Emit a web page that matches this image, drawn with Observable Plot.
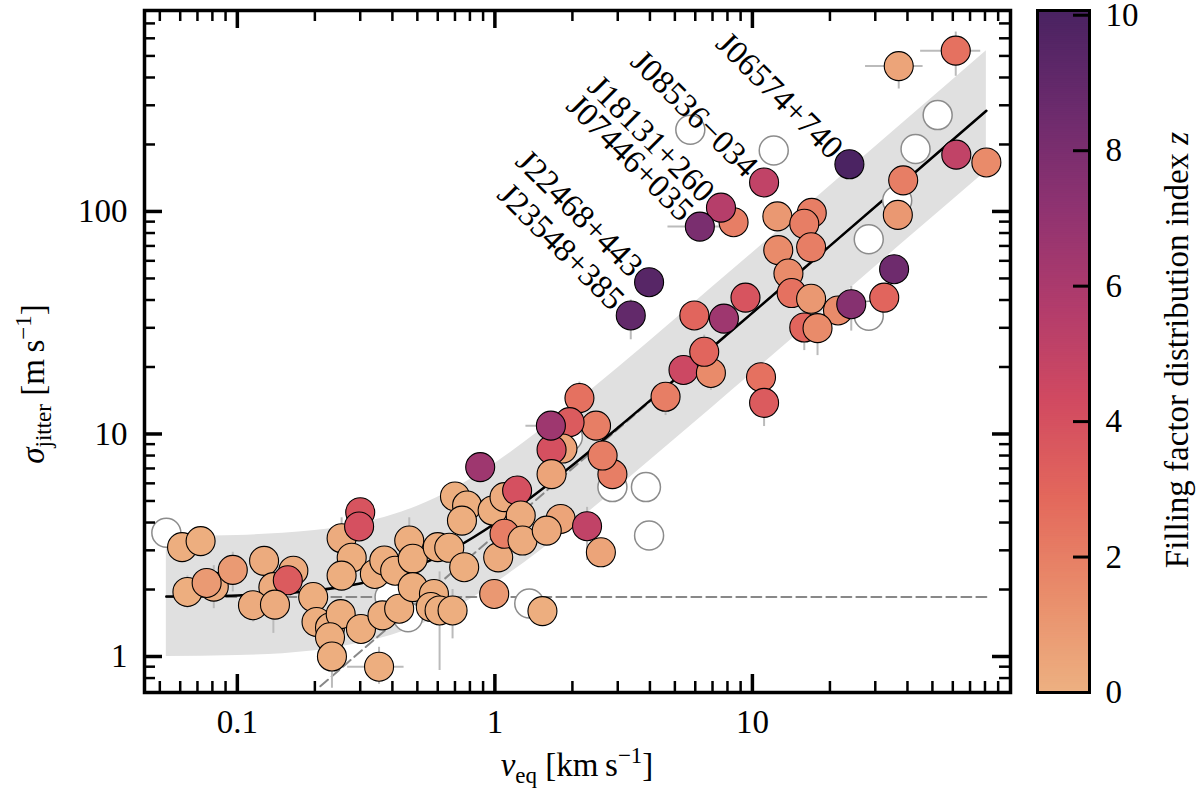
<!DOCTYPE html>
<html>
<head>
<meta charset="utf-8">
<script src="https://cdn.jsdelivr.net/npm/d3@7"></script>
<script src="https://cdn.jsdelivr.net/npm/@observablehq/plot@0.6"></script>
<style>
  body { margin: 0; background: white; }
</style>
</head>
<body>
<div id="chart"></div>
<script>
// stars: equatorial velocity, jitter, filling factor index (null = no z, open circle)
const vEq = [
  0.053, 0.39, 0.46, 1.36, 1.92, 2.86, 3.86, 3.97, 5.74, 12.1, 28.3, 28.3, 36.5, 43, 52.4,
  0.061, 0.072, 0.064, 0.081, 0.076, 0.096, 0.127, 0.165, 0.138, 0.157, 0.115, 0.140,
  0.197, 0.203, 0.229, 0.252, 0.229, 0.233, 0.254, 0.278, 0.254, 0.30, 0.297, 0.302,
  0.355, 0.342, 0.372, 0.41, 0.465, 0.48, 0.366, 0.425, 0.48, 0.58, 0.564, 0.61, 0.685,
  0.60, 0.665, 0.76, 0.70, 0.78, 0.745, 0.877, 0.98, 1.09, 1.22, 1.26, 1.03, 1.09, 1.28,
  0.994, 1.53, 1.80, 1.59, 2.28, 2.58, 2.86, 2.62, 2.47, 2.13, 1.95, 1.83, 1.66, 1.65, 1.66,
  4.6, 5.4, 6.9, 6.5, 5.95, 7.75, 9.4, 10.8, 11.1, 3.37, 3.97, 8.45, 7.55, 6.25, 11.1, 23.8,
  12.5, 17.0, 15.9, 12.6, 16.9, 13.8, 14.2, 16.9, 21.5, 24.2, 15.9, 17.9, 32.5, 35.5, 36.7,
  38.5, 61.9, 81, 37, 61.6
];
const sigma = [
  3.6, 1.85, 1.50, 1.73, 9.7, 5.77, 5.77, 3.5, 233, 188, 34, 75, 112, 191, 271,
  3.1, 3.3, 1.95, 2.06, 2.14, 2.45, 2.69, 2.43, 2.05, 2.20, 1.70, 1.71,
  1.85, 1.43, 1.35, 1.55, 1.22, 1.0, 3.4, 2.78, 2.31, 4.45, 3.84, 1.33,
  0.90, 2.35, 2.70, 2.43, 3.32, 2.75, 1.53, 1.64, 2.05, 1.91, 1.67, 1.61, 1.61,
  3.1, 3.08, 2.52, 5.24, 4.77, 4.08, 7.1, 4.53, 5.2, 5.57, 4.3, 2.79, 3.56, 3.32,
  1.91, 1.60, 4.15, 3.68, 3.85, 2.94, 6.6, 8.0, 10.9, 14.5, 11.3, 8.6, 8.5, 10.9, 6.6,
  14.7, 19.4, 18.8, 23.4, 34.1, 33.0, 41.0, 18.0, 13.8, 34.1, 48.1, 89.5, 104, 85.5, 135, 163,
  95, 98.5, 88, 67, 69, 52.6, 43, 40.5, 35.9, 38.3, 30.1, 29.9, 41, 55, 96.5,
  138, 180, 166, 450, 528
];
const zIdx = [
  null, null, null, null, null, null, null, null, null, null, null, null, null, null, null,
  0.1, 0.1, 0.1, 0.2, 0.9, 0.9, 0.2, 0.2, 0.2, 3.5, 0.2, 0.2,
  0.1, 0.1, 0.1, 0.1, 0.1, 0.1, 0.2, 0.1, 0.1, 3.8, 4.0, 0.1,
  0.1, 0.1, 0.1, 0.1, 0.1, 0.1, 0.1, 0.1, 0.1, 0.1, 0.1, 0.1, 0.1,
  0.1, 0.1, 0.1, 0.1, 0.1, 0.1, 6.5, 0.1, 0.2, 4.0, 0.2, 0.2, 2.0, 0.2,
  1.0, 0.1, 0.5, 0.3, 5.0, 0.5, 2.0, 2.0, 2.0, 2.5, 3.5, 0.5, 4.0, 6.5, 0.5,
  2.0, 4.5, 1.5, 3.0, 3.0, 6.5, 3.8, 2.5, 3.5, 9.0, 9.5, 2.0, 5.5, 8.0, 5.0, 10,
  1.0, 2.0, 2.0, 1.5, 2.0, 1.5, 2.5, 1.0, 1.5, 7.5, 3.0, 1.5, 3.0, 8.5, 1.0,
  2.0, 5.0, 1.5, 0.5, 2.5
];

// vertical error bars: v, sigma low, sigma high
const errYv  = [37, 61.6, 3.37, 0.61, 0.685, 0.233, 0.138, 0.081, 0.096, 0.115, 0.064, 2.13, 4.6, 11.1, 15.9, 17.9, 24.2, 2.28, 6.9, 6.5, 0.254, 0.465, 0.355];
const errYlo = [355, 405, 26.5, 0.865, 1.2, 0.72, 1.27, 1.64, 1.95, 1.43, 1.64, 12, 12.1, 10.8, 23.7, 22.5, 29, 2.7, 15.7, 20, 2.9, 2.7, 0.75];
const errYhi = [520, 640, 40, 2.4, 2.0, 1.2, 2.6, 2.56, 2.94, 1.9, 2.3, 17.1, 17, 16, 36, 36, 46, 4.68, 22, 27.8, 4.2, 4.2, 1.1];
// horizontal error bars: sigma, v low, v high
const errXs  = [450, 528, 85.5, 10.9, 0.90];
const errXlo = [27.5, 45, 4.7, 1.32, 0.268];
const errXhi = [46, 77, 7.5, 2.0, 0.444];

// model: white noise floor, power law and total with band
const curveV  = [0.053, 0.1, 0.15, 0.2, 0.3, 0.4, 0.5, 0.7, 1, 1.5, 2, 3, 5, 7, 10, 20, 40, 81];
const curveS  = [1.86, 1.88, 1.92, 1.98, 2.13, 2.32, 2.55, 3.07, 3.96, 5.57, 7.24, 10.66, 17.6, 24.6, 35.0, 70.0, 140, 283.5];
const bandLo  = [1.00, 1.01, 1.03, 1.06, 1.15, 1.25, 1.37, 1.65, 2.13, 2.99, 3.89, 5.73, 9.46, 13.2, 18.8, 37.6, 75.3, 152];
const bandHi  = [3.46, 3.50, 3.58, 3.68, 3.96, 4.32, 4.74, 5.71, 7.36, 10.4, 13.5, 19.8, 32.7, 45.8, 65.1, 130, 260, 527];
const floorV  = [0.053, 81];
const floorS  = [1.85, 1.85];
const powerV  = [0.21, 81];
const powerS  = [0.735, 283.5];

const labelNames = ["J06574+740", "J08536\u2212034", "J18131+260", "J07446+035", "J22468+443", "J23548+385"];
const labelV = [23.8, 11.1, 7.55, 6.25, 3.97, 3.37];
const labelS = [163, 135, 104, 85.5, 48.1, 34.1];

const xMajor = [0.1, 1, 10];
const xMinor = [0.05, 0.06, 0.07, 0.08, 0.09, 0.2, 0.3, 0.4, 0.5, 0.6, 0.7, 0.8, 0.9,
  2, 3, 4, 5, 6, 7, 8, 9, 20, 30, 40, 50, 60, 70, 80, 90];
const yMajor = [1, 10, 100];
const yMinor = [0.8, 0.9, 2, 3, 4, 5, 6, 7, 8, 9, 20, 30, 40, 50, 60, 70, 80, 90,
  200, 300, 400, 500, 600, 700];
const zTicks = [0, 2, 4, 6, 8, 10];

const flare = ["#EDB081", "#E98D6B", "#E3685C", "#D14A61", "#B13C6C", "#8F3371", "#6C2B6D", "#4B2362"];
const colorScale = {type: "linear", domain: [0, 10], interpolate: d3.piecewise(d3.interpolateRgb, flare)};

const stars = vEq.map((v, i) => ({v, s: sigma[i], z: zIdx[i]}));
const openStars = stars.filter(d => d.z == null);
const fullStars = stars.filter(d => d.z != null);
const model = curveV.map((v, i) => ({v, s: curveS[i], lo: bandLo[i], hi: bandHi[i]}));
const floor = floorV.map((v, i) => ({v, s: floorS[i]}));
const power = powerV.map((v, i) => ({v, s: powerS[i]}));
const errY = errYv.map((v, i) => ({v, lo: errYlo[i], hi: errYhi[i]}));
const errX = errXs.map((s, i) => ({s, lo: errXlo[i], hi: errXhi[i]}));
const labels = labelNames.map((name, i) => ({name, v: labelV[i], s: labelS[i]}));

const W = 1200, H = 811, mL = 144, mR = 190, mT = 10, mB = 119;
const inner = H - mT - mB;
const innerW = W - mL - mR;
const font = "Liberation Serif";

const chart = Plot.plot({
  width: W, height: H,
  marginLeft: mL, marginRight: mR, marginTop: mT, marginBottom: mB,
  x: {type: "log", domain: [0.0436, 100.5], label: null},
  y: {type: "log", domain: [0.689, 800], label: null},
  color: colorScale,
  style: {fontFamily: font, fontSize: "33px"},
  marks: [
    Plot.areaY(model, {x: "v", y1: "lo", y2: "hi", fill: "#e0e0e0", curve: "monotone-x"}),
    Plot.line(floor, {x: "v", y: "s", stroke: "#888", strokeWidth: 2, strokeDasharray: "10,5"}),
    Plot.line(power, {x: "v", y: "s", stroke: "#888", strokeWidth: 2, strokeDasharray: "10,5"}),
    Plot.line(model, {x: "v", y: "s", stroke: "black", strokeWidth: 2.5, curve: "monotone-x"}),
    Plot.ruleX(errY, {x: "v", y1: "lo", y2: "hi", stroke: "#bbb", strokeWidth: 2}),
    Plot.ruleY(errX, {y: "s", x1: "lo", x2: "hi", stroke: "#bbb", strokeWidth: 2}),
    Plot.dot(openStars, {x: "v", y: "s", r: 14.5, fill: "white", stroke: "#8c8c8c", strokeWidth: 1.5}),
    Plot.dot(fullStars, {x: "v", y: "s", r: 14.5, fill: "z", stroke: "black", strokeWidth: 1.1}),
    Plot.text(labels, {x: "v", y: "s", text: "name", rotate: 45, textAnchor: "end", lineAnchor: "middle",
      dx: -12, dy: -11, fontSize: 33, fontFamily: font, fill: "black"}),
    // inward ticks on all four sides
    Plot.tickX(xMajor, {x: d => d, insetTop: inner - 18, stroke: "black", strokeWidth: 3.5}),
    Plot.tickX(xMinor, {x: d => d, insetTop: inner - 11, stroke: "black", strokeWidth: 2.5}),
    Plot.tickX(xMajor, {x: d => d, insetBottom: inner - 18, stroke: "black", strokeWidth: 3.5}),
    Plot.tickX(xMinor, {x: d => d, insetBottom: inner - 11, stroke: "black", strokeWidth: 2.5}),
    Plot.tickY(yMajor, {y: d => d, insetRight: innerW - 18, stroke: "black", strokeWidth: 3.5}),
    Plot.tickY(yMinor, {y: d => d, insetRight: innerW - 11, stroke: "black", strokeWidth: 2.5}),
    Plot.tickY(yMajor, {y: d => d, insetLeft: innerW - 18, stroke: "black", strokeWidth: 3.5}),
    Plot.tickY(yMinor, {y: d => d, insetLeft: innerW - 11, stroke: "black", strokeWidth: 2.5}),
    Plot.axisX({ticks: xMajor, tickFormat: d => String(d), tickSize: 0, tickPadding: 17, fontSize: 33, label: null}),
    Plot.axisY({ticks: yMajor, tickFormat: d => String(d), tickSize: 0, tickPadding: 17, fontSize: 33, label: null}),
    Plot.frame({stroke: "black", strokeWidth: 3.5})
  ]
});

// axis titles with sub/superscripts
const svg = d3.select(chart);
const xl = svg.append("text").attr("x", 577).attr("y", 776).attr("text-anchor", "middle")
  .attr("font-family", font).attr("font-size", 33).attr("fill", "black");
xl.append("tspan").attr("font-style", "italic").text("v");
xl.append("tspan").attr("font-size", 23).attr("dy", 7).text("eq");
xl.append("tspan").attr("dy", -7).text(" [km\u2009s");
xl.append("tspan").attr("font-size", 23).attr("dy", -13).text("\u22121");
xl.append("tspan").attr("dy", 13).text("]");

const yl = svg.append("text").attr("transform", "translate(44,384) rotate(-90)").attr("text-anchor", "middle")
  .attr("font-family", font).attr("font-size", 33).attr("fill", "black");
yl.append("tspan").attr("font-style", "italic").text("\u03C3");
yl.append("tspan").attr("font-size", 23).attr("dy", 7).text("jitter");
yl.append("tspan").attr("dy", -7).text(" [m\u2009s");
yl.append("tspan").attr("font-size", 23).attr("dy", -13).text("\u22121");
yl.append("tspan").attr("dy", 13).text("]");

// colorbar, drawn as a second plot and nested into the main svg
const stripes = d3.range(0, 10.07, 0.03);
const cbar = Plot.plot({
  width: 163, height: H,
  marginLeft: 0, marginRight: 111, marginTop: mT, marginBottom: mB,
  x: {domain: [0, 1], axis: null},
  y: {domain: [0, 10.07], label: null},
  color: colorScale,
  style: {fontFamily: font, fontSize: "33px"},
  marks: [
    Plot.rect(stripes, {x1: 0, x2: 1, y1: d => d, y2: d => Math.min(d + 0.05, 10.07), fill: d => d}),
    Plot.tickY(zTicks, {y: d => d, insetLeft: 36, stroke: "black", strokeWidth: 3}),
    Plot.axisY({anchor: "right", ticks: zTicks, tickSize: 0, tickPadding: 16, fontSize: 33, label: null}),
    Plot.frame({stroke: "black", strokeWidth: 3})
  ]
});
const cb = d3.select(cbar);
const cl = cb.append("text").attr("transform", "translate(151,350) rotate(-90)")
  .attr("text-anchor", "middle").attr("font-family", font).attr("font-size", 33).attr("fill", "black");
cl.append("tspan").text("Filling factor distribution index ");
cl.append("tspan").attr("font-style", "italic").text("z");

const g = svg.append("g").attr("transform", "translate(1037,0)");
for (const child of Array.from(cbar.childNodes)) {
  if (child.nodeName.toLowerCase() !== "style") g.node().appendChild(child);
}

// font on every level
svg.attr("font-family", font);
svg.selectAll("g, text").attr("font-family", font);

document.getElementById("chart").appendChild(chart);
</script>
</body>
</html>
